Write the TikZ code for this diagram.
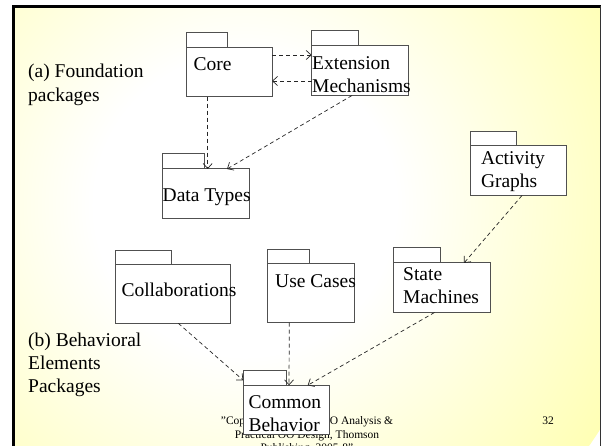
\documentclass[tikz,border=0pt]{standalone}
\usepackage{fontspec}
\setmainfont{Liberation Serif}
\usetikzlibrary{arrows.meta,calc}
\definecolor{slideyellow}{RGB}{255,255,153}
\definecolor{pkgline}{RGB}{80,80,80}
% soft white glow fading into the slide colour
\pgfdeclareradialshading{slideglow}{\pgfpoint{0bp}{0bp}}{color(0bp)=(white); color(9bp)=(white); color(31bp)=(slideyellow); color(50bp)=(slideyellow)}

\begin{document}
\begin{tikzpicture}[x=1pt,y=-1pt,
  pkgbody/.style={draw=pkgline, fill=white, line width=1pt, anchor=north west, inner sep=0pt, outer sep=0pt},
  pkgtab/.style={pkgbody, anchor=south west},
  pkgtext/.style={font=\fontsize{19.5}{23.3}\selectfont, inner sep=0pt, anchor=base west},
  sidetext/.style={pkgtext},
  foot/.style={font=\fontsize{11.5}{13.5}\selectfont, inner sep=0pt, anchor=base},
  depends/.style={draw=black!85, line width=0.7pt, dash pattern=on 4pt off 3pt,
    -{Straight Barb[length=5pt,width=9pt]}}]

\useasboundingbox (0,0) rectangle (602,446);
\fill[white] (0,0) rectangle (602,446);

% slide background
\begin{scope}
  \clip (13.3,6.5) rectangle (600.5,446);
  \shade[shading=slideglow] (245,205) circle (420);
\end{scope}
\draw[line width=2.5pt] (13.3,447) -- (13.3,6.5) -- (601,6.5);
\draw[line width=1.2pt, black!80] (600.5,6.5) -- (600.5,447);

% footer
\node[foot] (foot1) at (307,424.5) {"Copyright, Practical OO Analysis \&};
\node[foot] (foot2) at (307,438) {Practical OO Design, Thomson};
\node[foot] (foot3) at (307,451.5) {Publishing, 2005-8"};
\node[foot] (pagenum) at (548,424.5) {32};

% group captions
\node[sidetext] (capa1) at (28,78) {(a) Foundation};
\node[sidetext] (capa2) at (28,101.7) {packages};
\node[sidetext] (capb1) at (28,346.7) {(b) Behavioral};
\node[sidetext] (capb2) at (28,369.5) {Elements};
\node[sidetext] (capb3) at (28,392.7) {Packages};

% packages: body plus tab
\node[pkgbody, minimum width=86pt, minimum height=49.4pt] (core) at (186,47.3) {};
\node[pkgtab, minimum width=41.7pt, minimum height=14.6pt] (coretab) at (core.north west) {};
\node[pkgtext] (corelbl) at (193.3,70.7) {Core};

\node[pkgbody, minimum width=96.3pt, minimum height=49.8pt] (ext) at (311.7,45.7) {};
\node[pkgtab, minimum width=47pt, minimum height=14.7pt] (exttab) at (ext.north west) {};
\node[pkgtext] (extlbl1) at (312,69.8) {Extension};
\node[pkgtext] (extlbl2) at (312,92.5) {Mechanisms};

\node[pkgbody, minimum width=86.7pt, minimum height=49.3pt] (types) at (162.3,169) {};
\node[pkgtab, minimum width=42pt, minimum height=15pt] (typestab) at (types.north west) {};
\node[pkgtext] (typeslbl) at (162.5,201.5) {Data Types};

\node[pkgbody, minimum width=96.5pt, minimum height=49.8pt] (act) at (470,145.7) {};
\node[pkgtab, minimum width=46.5pt, minimum height=14.5pt] (acttab) at (act.north west) {};
\node[pkgtext] (actlbl1) at (480.8,164.5) {Activity};
\node[pkgtext] (actlbl2) at (480.8,187.8) {Graphs};

\node[pkgbody, minimum width=96.5pt, minimum height=49.5pt] (state) at (393.5,263) {};
\node[pkgtab, minimum width=46.8pt, minimum height=15.3pt] (statetab) at (state.north west) {};
\node[pkgtext] (statelbl1) at (403,280.5) {State};
\node[pkgtext] (statelbl2) at (403,303.8) {Machines};

\node[pkgbody, minimum width=115pt, minimum height=58.6pt] (collab) at (115.3,264.7) {};
\node[pkgtab, minimum width=56pt, minimum height=14.4pt] (collabtab) at (collab.north west) {};
\node[pkgtext] (collablbl) at (121.3,296.5) {Collaborations};

\node[pkgbody, minimum width=86.9pt, minimum height=58.7pt] (usecases) at (267.3,264) {};
\node[pkgtab, minimum width=42pt, minimum height=14.7pt] (usecasestab) at (usecases.north west) {};
\node[pkgtext] (usecaseslbl) at (275,287.5) {Use Cases};

\node[pkgbody, minimum width=86.4pt, minimum height=49.4pt] (common) at (243.3,385.3) {};
\node[pkgtab, minimum width=42.7pt, minimum height=14.6pt] (commontab) at (common.north west) {};
\node[pkgtext] (commonlbl1) at (248.3,408.8) {Common};
\node[pkgtext] (commonlbl2) at (248.3,431.5) {Behavior};

% dependencies
\draw[depends] ($(core.north east)+(0,7.7)$) -- ($(ext.north west)+(0,9.3)$);
\draw[depends] ($(ext.north west)+(0,35.3)$) -- ($(core.north east)+(0,33.7)$);
\draw[depends] ($(core.south west)+(21.7,0)$) -- ($(types.north west)+(45.4,0)$);
\draw[depends] ($(ext.south west)+(40.3,0)$) -- ($(types.north west)+(64.7,0)$);
\draw[depends] ($(act.south west)+(52,0)$) -- ($(state.north west)+(70.5,0)$);
\draw[depends] ($(collab.south west)+(63,0)$) -- ($(common.north west)+(0,-5)$);
\draw[depends] ($(usecases.south west)+(22,0)$) -- ($(common.north west)+(45.7,0)$);
\draw[depends] ($(state.south west)+(41,0)$) -- ($(common.north west)+(64.4,0)$);
\end{tikzpicture}
\end{document}
